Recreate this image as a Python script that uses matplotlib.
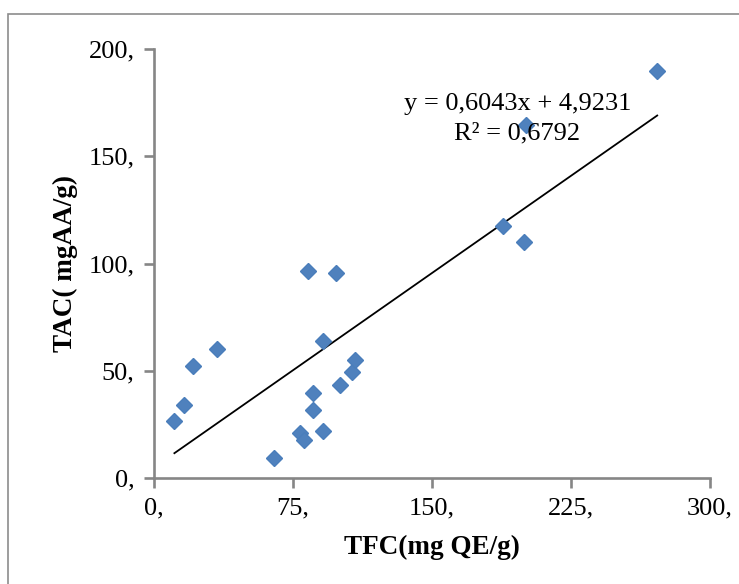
#import packages
import numpy as np
import matplotlib.pyplot as plt
from matplotlib.patches import Rectangle

#data
tfc = [11.0, 16.3, 21.1, 34.2, 65.0, 79.0, 80.8, 82.9, 86.0, 85.8,
       91.3, 91.3, 98.3, 100.3, 106.9, 108.4, 188.3, 199.7, 200.8, 271.5]
tac = [26.4, 34.1, 52.0, 60.1, 9.2, 21.0, 17.7, 96.7, 39.8, 31.9,
       22.1, 64.1, 95.5, 43.3, 49.2, 54.9, 117.5, 109.9, 164.7, 189.6]
x_ticks = [0, 75, 150, 225, 300]
y_ticks = [0, 50, 100, 150, 200]
slope = 0.6043
intercept = 4.9231
r2 = 0.6792

plt.rcParams['font.family'] = ['Liberation Serif', 'DejaVu Serif']

fig = plt.figure(figsize=(7.39, 5.84), dpi=100)
ax = fig.add_axes([0.2084, 0.1815, 0.7524, 0.7346])

#border round the whole chart (right and bottom edges cut off)
fig.patches.append(Rectangle((8/739, -0.1), 1.2, 1 - 14/584 + 0.1, transform=fig.transFigure,
                             fill=False, edgecolor='#8c8c8c', linewidth=1.2))

#scatter points
ax.plot(tfc, tac, linestyle='none', marker='D', markersize=8.5,
        markerfacecolor='#4F81BD', markeredgecolor='#4A7EBB', zorder=3)

#linear trendline
xs = np.array([min(tfc), max(tfc)])
ax.plot(xs, slope * xs + intercept, color='black', linewidth=1.3, zorder=2)

ax.text(196, 171.6, 'y = ' + f'{slope:.4f}'.replace('.', ',') + 'x + ' + f'{intercept:.4f}'.replace('.', ','),
        ha='center', va='baseline', fontsize=19)
ax.text(196, 157.6, 'R² = ' + f'{r2:.4f}'.replace('.', ','), ha='center', va='baseline', fontsize=19)

#axes formatting
ax.set_xlim(0, 300)
ax.set_ylim(0, 200)
ax.set_xticks(x_ticks)
ax.set_yticks(y_ticks)
ax.set_xticklabels([f'{v},' for v in x_ticks])
ax.set_yticklabels([f'{v},' for v in y_ticks])
ax.tick_params(labelsize=19, length=7, width=1.9, color='#868686', pad=7)
for s in ['top', 'right']:
    ax.spines[s].set_visible(False)
for s in ['left', 'bottom']:
    ax.spines[s].set_color('#868686')
    ax.spines[s].set_linewidth(1.9)

fig.text(432/739, 1 - 547/584, 'TFC(mg QE/g)', ha='center', va='center', fontsize=19.5, fontweight='bold')
fig.text(65/739, 1 - 263/584, 'TAC( mgAA/g)', ha='center', va='center', rotation=90,
         fontsize=19.5, fontweight='bold')

plt.savefig('out.png', dpi=100)
